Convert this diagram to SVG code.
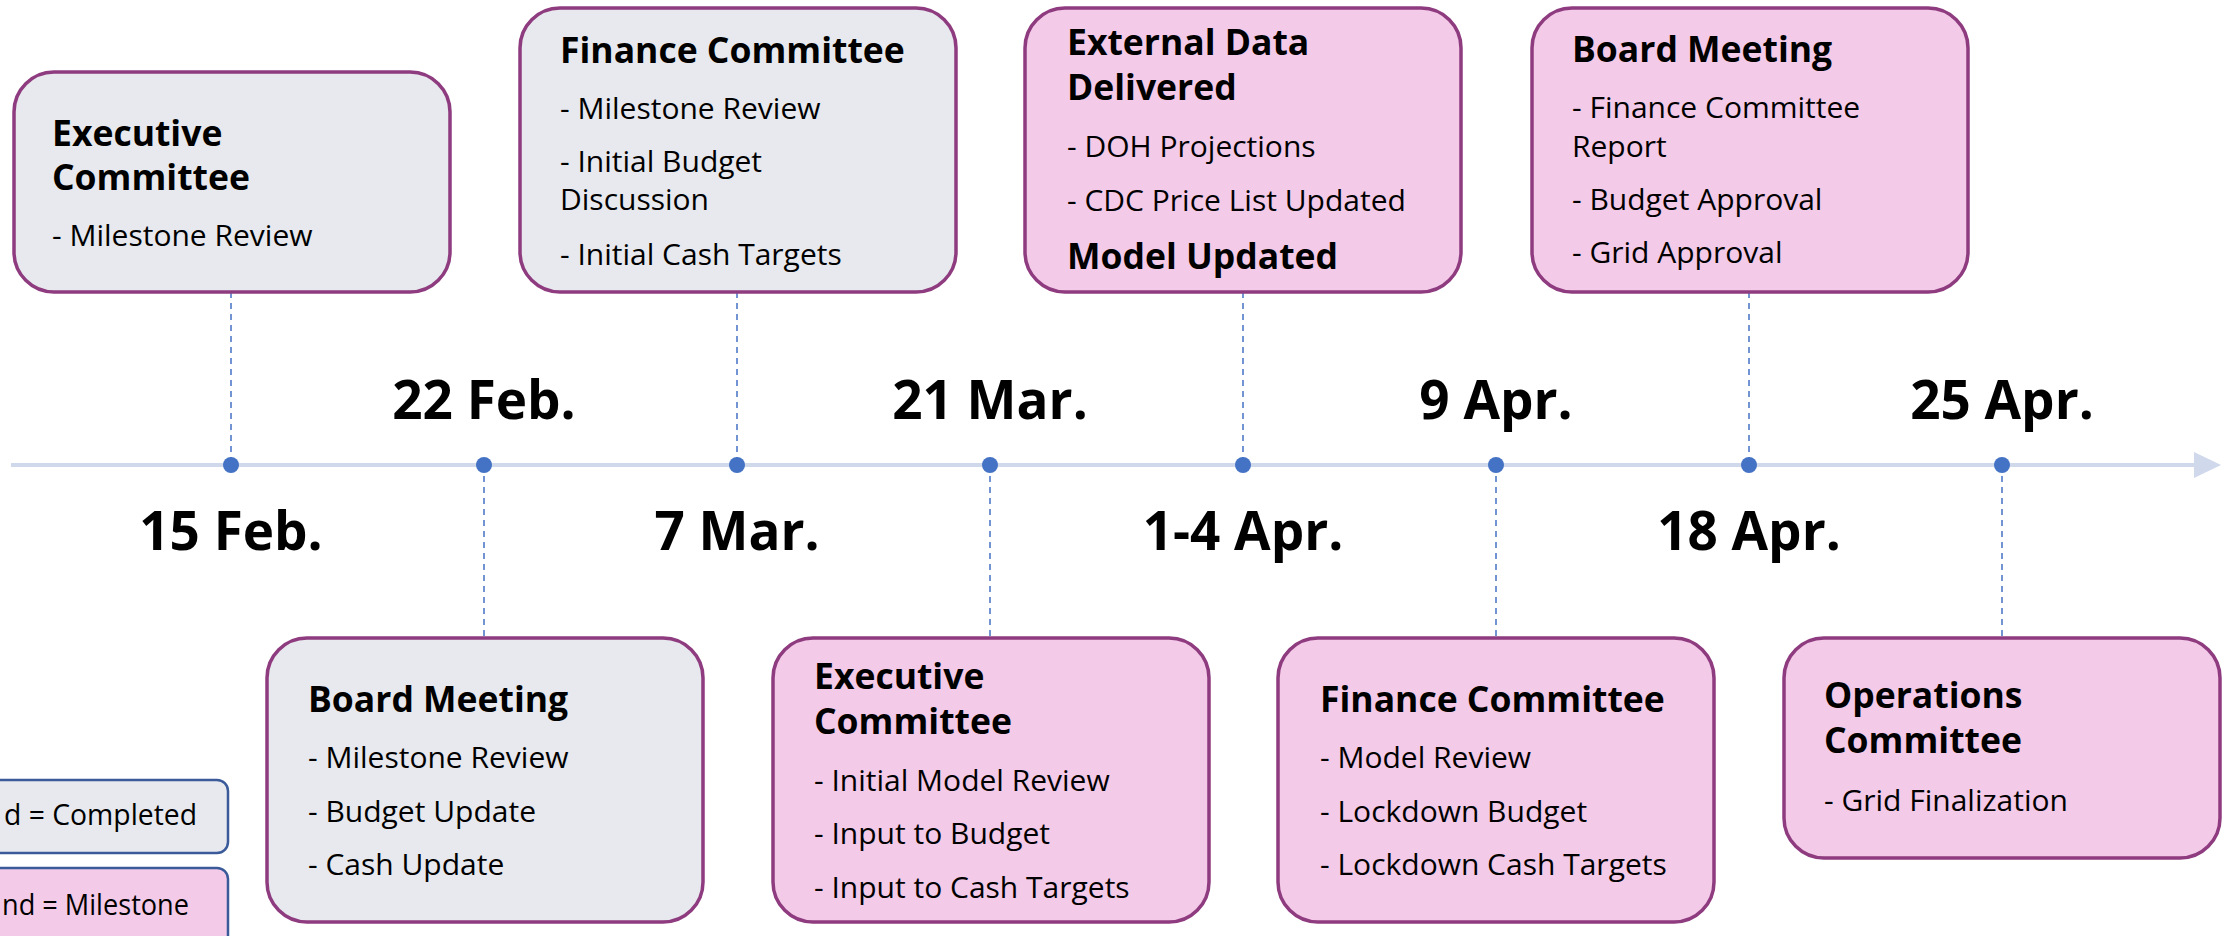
<svg xmlns="http://www.w3.org/2000/svg" width="2236" height="936" viewBox="0 0 2236 936">
<defs>
<style>
.box{stroke:#8E3B7F;stroke-width:3.5}
.gray{fill:#E7E9EE}
.pink{fill:#F3CAE8}
.h{font-family:"Open Sans","Noto Sans",sans-serif;font-weight:700;font-size:35.5px;fill:#000}
.b{font-family:"Open Sans","Noto Sans",sans-serif;font-size:30px;fill:#000}
.d{font-family:"Open Sans","Noto Sans",sans-serif;font-weight:700;font-size:53px;fill:#000;text-anchor:middle}
.lg{font-family:"Open Sans","Noto Sans",sans-serif;font-size:29px;fill:#000}
.leg{stroke:#3A5A9A;stroke-width:2.5}
.dash{stroke:#4472C4;stroke-width:1.5;stroke-dasharray:6 5;fill:none}
.dot{fill:#4472C4}
</style>
</defs>
<rect width="2236" height="936" fill="#FFFFFF"/>
<g id="timeline">
<line x1="11" y1="465" x2="2200" y2="465" stroke="#D0D8EC" stroke-width="4"/>
<polygon points="2194,452 2221,465 2194,478" fill="#D0D8EC"/>
</g>
<g id="connectors">
<line class="dash" x1="231" y1="292" x2="231" y2="465"/>
<line class="dash" x1="484" y1="465" x2="484" y2="638"/>
<line class="dash" x1="737" y1="292" x2="737" y2="465"/>
<line class="dash" x1="990" y1="465" x2="990" y2="638"/>
<line class="dash" x1="1243" y1="292" x2="1243" y2="465"/>
<line class="dash" x1="1496" y1="465" x2="1496" y2="638"/>
<line class="dash" x1="1749" y1="292" x2="1749" y2="465"/>
<line class="dash" x1="2002" y1="465" x2="2002" y2="638"/>
</g>
<g id="dots">
<circle class="dot" cx="231" cy="465" r="8"/>
<circle class="dot" cx="484" cy="465" r="8"/>
<circle class="dot" cx="737" cy="465" r="8"/>
<circle class="dot" cx="990" cy="465" r="8"/>
<circle class="dot" cx="1243" cy="465" r="8"/>
<circle class="dot" cx="1496" cy="465" r="8"/>
<circle class="dot" cx="1749" cy="465" r="8"/>
<circle class="dot" cx="2002" cy="465" r="8"/>
</g>
<g id="dates">
<text class="d" x="484" y="419">22 Feb.</text>
<text class="d" x="990" y="419">21 Mar.</text>
<text class="d" x="1496" y="419">9 Apr.</text>
<text class="d" x="2002" y="419">25 Apr.</text>
<text class="d" x="231" y="550">15 Feb.</text>
<text class="d" x="737" y="550">7 Mar.</text>
<text class="d" x="1243" y="550">1-4 Apr.</text>
<text class="d" x="1749" y="550">18 Apr.</text>
</g>
<g id="exec-feb15">
<rect class="box gray" x="14" y="72" width="436" height="220" rx="40"/>
<text class="h" x="52" y="146">Executive<tspan x="52" y="190">Committee</tspan></text>
<text class="b" x="52" y="246">- Milestone Review</text>
</g>
<g id="finance-mar7">
<rect class="box gray" x="520" y="8" width="436" height="284" rx="40"/>
<text class="h" x="560" y="63">Finance Committee</text>
<text class="b" x="560" y="119">- Milestone Review</text>
<text class="b" x="560" y="172">- Initial Budget<tspan x="560" y="210">Discussion</tspan></text>
<text class="b" x="560" y="265">- Initial Cash Targets</text>
</g>
<g id="external-apr1">
<rect class="box pink" x="1025" y="8" width="436" height="284" rx="40"/>
<text class="h" x="1067" y="55">External Data<tspan x="1067" y="100">Delivered</tspan></text>
<text class="b" x="1067" y="157">- DOH Projections</text>
<text class="b" x="1067" y="211">- CDC Price List Updated</text>
<text class="h" x="1067" y="269">Model Updated</text>
</g>
<g id="board-apr18">
<rect class="box pink" x="1532" y="8" width="436" height="284" rx="40"/>
<text class="h" x="1572" y="62">Board Meeting</text>
<text class="b" x="1572" y="118">- Finance Committee<tspan x="1572" y="157">Report</tspan></text>
<text class="b" x="1572" y="210">- Budget Approval</text>
<text class="b" x="1572" y="263">- Grid Approval</text>
</g>
<g id="board-feb22">
<rect class="box gray" x="267" y="638" width="436" height="284" rx="40"/>
<text class="h" x="308" y="712">Board Meeting</text>
<text class="b" x="308" y="768">- Milestone Review</text>
<text class="b" x="308" y="822">- Budget Update</text>
<text class="b" x="308" y="875">- Cash Update</text>
</g>
<g id="exec-mar21">
<rect class="box pink" x="773" y="638" width="436" height="284" rx="40"/>
<text class="h" x="814" y="689">Executive<tspan x="814" y="734">Committee</tspan></text>
<text class="b" x="814" y="791">- Initial Model Review</text>
<text class="b" x="814" y="844">- Input to Budget</text>
<text class="b" x="814" y="898">- Input to Cash Targets</text>
</g>
<g id="finance-apr9">
<rect class="box pink" x="1278" y="638" width="436" height="284" rx="40"/>
<text class="h" x="1320" y="712">Finance Committee</text>
<text class="b" x="1320" y="768">- Model Review</text>
<text class="b" x="1320" y="822">- Lockdown Budget</text>
<text class="b" x="1320" y="875">- Lockdown Cash Targets</text>
</g>
<g id="operations-apr25">
<rect class="box pink" x="1784" y="638" width="436" height="220" rx="40"/>
<text class="h" x="1824" y="708">Operations<tspan x="1824" y="753">Committee</tspan></text>
<text class="b" x="1824" y="811">- Grid Finalization</text>
</g>
<g id="legend-completed">
<rect class="leg gray" x="-20" y="780" width="248" height="73" rx="11"/>
<text class="lg" x="4" y="825" textLength="193" lengthAdjust="spacingAndGlyphs">d = Completed</text>
</g>
<g id="legend-milestone">
<rect class="leg pink" x="-20" y="868" width="248" height="90" rx="11"/>
<text class="lg" x="2" y="915" textLength="187" lengthAdjust="spacingAndGlyphs">nd = Milestone</text>
</g>
</svg>
